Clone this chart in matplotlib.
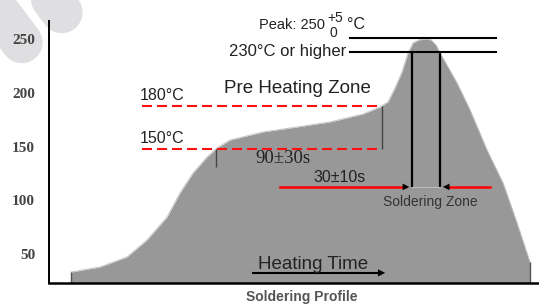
import matplotlib.pyplot as plt

# profile: time (s) and temperature (C)
t = [11.9, 27.7, 42.3, 53.2, 64.1, 71.1, 78.2, 85.8, 91.2, 98.3, 116.2, 134.6,
     152.6, 170.5, 179.7, 184.0, 187.8, 191.6, 194.9, 197.6, 200.9, 204.1,
     207.4, 210.1, 212.3, 221.5, 228.6, 237.8, 246.5, 254.1, 261.1]
temp = [33.3, 38.0, 47.3, 63.1, 84.5, 106.8, 125.4, 140.3, 148.7, 156.1, 163.6, 168.2,
        172.9, 180.3, 186.8, 191.5, 204.5, 219.4, 237.1, 246.4, 249.2, 250.1,
        249.2, 244.5, 237.1, 209.2, 184.0, 146.8, 116.1, 78.9, 42.6]

yticks = [50, 100, 150, 200, 250]

preheat_levels = [147.8, 187.8]
preheat_labels = ['150°C', '180°C']
preheat_span = [50.5, 179.7]
preheat_window = [90.7, 180.8]

peak_levels = [251, 238]
peak_span = [163.4, 242.7]
solder_window = [197.1, 212.3]
solder_level = 112.5
solder_red = [125.4, 239.4]

heating_level = 32.5
heating_span = [110.8, 184.0]

ymin, ymax = 23.1, 266.8

plt.rcParams['font.family'] = 'Liberation Sans'
plt.rcParams['lines.scale_dashes'] = False

fig = plt.figure(figsize=(5.39, 3.05), dpi=100)

# watermark in the corner (rounded diagonal strokes)
bg = fig.add_axes([0, 0, 1, 1])
bg.set_xlim(0, 539)
bg.set_ylim(305, 0)
bg.axis('off')
for cx, cy in [(21.8, 42.4), (61.8, 12.4), (101.8, -17.6), (-18.2, 72.4)]:
    bg.plot([cx - 90, cx], [cy - 120, cy], color='#dfdfe2', lw=30,
            solid_capstyle='round')

ax = fig.add_axes([49/539, 22/305, 490/539, 262/305])
ax.set_facecolor('none')
ax.set_xlim(0, 266)
ax.set_ylim(ymin, ymax)

ax.fill_between(t, temp, ymin, color='#989898', lw=0)
ax.plot(t, temp, color='#c4c4c4', lw=0.7)
ax.vlines([t[0], t[-1]], ymin, [temp[0], temp[-1]], color='#555555', lw=1)

# pre heating zone
for lev, lab in zip(preheat_levels, preheat_labels):
    ax.plot(preheat_span, [lev, lev], color='#ff1010', lw=1.5, dashes=(7.2, 3.6))
    ax.text(preheat_span[0] - 1.5, lev + 2.5, lab, fontsize=11.5, color='#222222',
            ha='left', va='bottom')
ax.vlines(preheat_window[0], 131, preheat_levels[0], color='#444444', lw=1)
ax.vlines(preheat_window[1], preheat_levels[0], preheat_levels[1], color='#444444', lw=1)
ax.text(134.6, 203.6, 'Pre Heating Zone', fontsize=13.5, color='#222222',
        ha='center', va='center')
ax.text(127, 138.5, '90±30s', fontsize=13.5, family='Liberation Serif',
        color='#222222', ha='center', va='center')

# peak / soldering zone
for lev in peak_levels:
    ax.plot(peak_span, [lev, lev], color='black', lw=1.5)
ax.vlines(solder_window, solder_level, peak_levels[1], color='black', lw=1.6)
ax.text(114, 263.1, 'Peak: 250', fontsize=10.5, color='#222222', ha='left', va='center')
ax.text(151.0, 269.6, '+5', fontsize=10, color='#222222', ha='left', va='center')
ax.text(152.0, 255.7, '0', fontsize=10, color='#222222', ha='left', va='center')
ax.text(161.5, 263.1, '°C', fontsize=11.5, color='#222222', ha='left', va='center')
ax.text(161.2, 238, '230°C or higher', fontsize=12, color='#222222',
        ha='right', va='center')

ax.plot(solder_window, [solder_level, solder_level], color='#bbbbbb', lw=0.8)
ax.plot([solder_red[0], solder_window[0] - 4], [solder_level] * 2, color='#ff0000', lw=1.8)
ax.plot([solder_window[1] + 4, solder_red[1]], [solder_level] * 2, color='#ff0000', lw=1.8)
ax.annotate('', xy=(solder_window[0], solder_level), xytext=(solder_window[0] - 7, solder_level),
            arrowprops=dict(arrowstyle='-|>', color='black', lw=0, mutation_scale=12))
ax.annotate('', xy=(solder_window[1], solder_level), xytext=(solder_window[1] + 7, solder_level),
            arrowprops=dict(arrowstyle='-|>', color='black', lw=0, mutation_scale=12))
ax.text(158, 120.8, '30±10s', fontsize=11.5, color='#222222', ha='center', va='center')
ax.text(206.8, 98.5, 'Soldering Zone', fontsize=10, color='#333333', ha='center', va='center')

# heating time arrow
ax.plot([heating_span[0], heating_span[1] - 5], [heating_level] * 2, color='black', lw=1.5)
ax.annotate('', xy=(heating_span[1], heating_level), xytext=(heating_span[1] - 8, heating_level),
            arrowprops=dict(arrowstyle='-|>', color='black', lw=0, mutation_scale=13))
ax.text(143.1, 39.9, 'Heating Time', fontsize=13.5, color='#222222', ha='center', va='center')

fig.text(302/539, 1 - 297/305, 'Soldering Profile', fontsize=10, fontweight='bold',
         color='#555555', ha='center', va='center')

# axes
ax.spines['top'].set_visible(False)
ax.spines['right'].set_visible(False)
ax.spines['left'].set_linewidth(1.4)
ax.spines['bottom'].set_linewidth(1.8)
ax.set_xticks([])
ax.set_yticks(yticks)
ax.tick_params(axis='y', length=0, pad=10)
for lbl in ax.get_yticklabels():
    lbl.set_family('Liberation Serif')
    lbl.set_fontsize(11)
    lbl.set_fontweight('bold')
    lbl.set_color('#444444')

fig.savefig('out.png', dpi=100)
